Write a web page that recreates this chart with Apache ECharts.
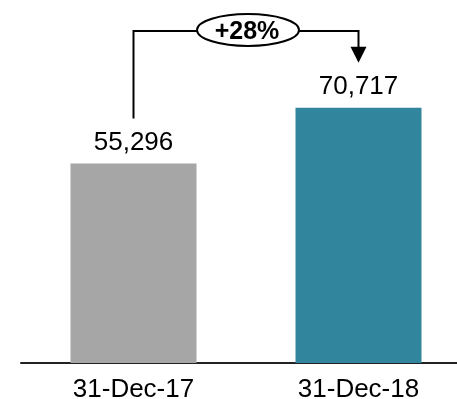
<!DOCTYPE html>
<html>
<head>
<meta charset="utf-8">
<script src="https://cdn.jsdelivr.net/npm/echarts@6/dist/echarts.min.js"></script>
<style>
  html, body { margin: 0; padding: 0; background: #fff; }
  #main { width: 457px; height: 399px; }
</style>
</head>
<body>
<div id="main"></div>
<script>
var dates = ['31-Dec-17', '31-Dec-18']
var values = [55296, 70717]
var barColors = ['#A6A6A6', '#31859C']

var font = 'Arial, "Liberation Sans", sans-serif'
var myChart = echarts.init(document.getElementById('main'))

var option = {
  animation: false,
  backgroundColor: '#fff',
  grid: { left: 21, width: 450, top: 2, bottom: 36, outerBoundsMode: 'none', containLabel: false },
  xAxis: {
    type: 'category',
    data: dates,
    axisLine: { lineStyle: { color: '#222', width: 2 } },
    axisTick: { show: false },
    axisLabel: { color: '#000', fontSize: 26, fontFamily: font, margin: 14 }
  },
  yAxis: {
    type: 'value',
    min: 0,
    max: 100000,
    show: false,
    splitLine: { show: false }
  },
  series: [{
    type: 'bar',
    barWidth: 126,
    data: values.map(function (v, i) {
      return { value: v, itemStyle: { color: barColors[i] } }
    }),
    label: {
      show: true,
      position: 'top',
      distance: 8,
      color: '#000',
      fontSize: 26,
      fontFamily: font,
      formatter: function (p) { return p.value.toLocaleString('en-US') }
    }
  }]
}
myChart.setOption(option)

// growth bracket, anchored to the bars
var p0 = myChart.convertToPixel({ seriesIndex: 0 }, [0, values[0]])
var p1 = myChart.convertToPixel({ seriesIndex: 0 }, [1, values[1]])
var topY = 31
var gap = 45
var growth = Math.round((values[1] / values[0] - 1) * 100)
var midX = (p0[0] + p1[0]) / 2

myChart.setOption({
  graphic: [
    {
      type: 'polyline',
      shape: { points: [[p0[0], p0[1] - gap], [p0[0], topY], [p1[0], topY], [p1[0], p1[1] - gap - 15]] },
      style: { stroke: '#000', lineWidth: 2, fill: null }
    },
    {
      type: 'polygon',
      shape: { points: [[p1[0] - 8, p1[1] - gap - 16], [p1[0] + 8, p1[1] - gap - 16], [p1[0], p1[1] - gap]] },
      style: { fill: '#000' }
    },
    {
      type: 'ellipse',
      shape: { cx: midX + 2, cy: topY - 1, rx: 51, ry: 16 },
      style: { fill: '#fff', stroke: '#000', lineWidth: 2 }
    },
    {
      type: 'text',
      x: midX + 1,
      y: topY + 1,
      style: {
        text: '+' + growth + '%',
        fontSize: 25,
        fontWeight: 'bold',
        fontFamily: font,
        fill: '#000',
        align: 'center',
        verticalAlign: 'middle'
      }
    }
  ]
})
</script>
</body>
</html>
